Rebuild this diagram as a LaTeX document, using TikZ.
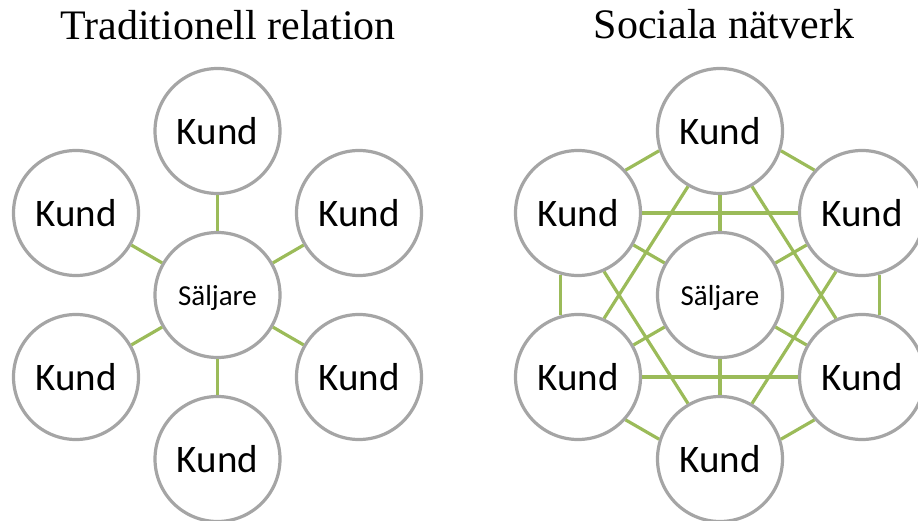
\documentclass[tikz,border=0pt]{standalone}
\usepackage{fontspec}
\setmainfont{Liberation Serif}
\newfontfamily\kundfont{Carlito}
\usepackage{tikz}
\usetikzlibrary{positioning}
\definecolor{ringGray}{RGB}{165,165,165}
\definecolor{linkGreen}{RGB}{155,187,89}

\begin{document}
\begin{tikzpicture}[x=1pt, y=-1pt,
    person/.style={circle, draw=ringGray, line width=3.2pt, fill=white, minimum size=125pt, inner sep=0pt, font=\kundfont\fontsize{39}{41}\selectfont},
    seller/.style={person, text depth=0pt, font=\kundfont\fontsize{29}{31}\selectfont},
    link/.style={linkGreen, line width=3.2pt},
    heading/.style={anchor=base, font=\fontsize{42}{45}\selectfont}]
    \useasboundingbox (0,0) rectangle (918,521);

    % Titles
    \node[heading] (titleL) at (228,40) {Traditionell relation};
    \node[heading] (titleR) at (724,39) {Sociala nätverk};

    % Traditionell relation
    \node[seller] (lc) at (217.5,295) {Säljare};
    \node[person] (lt) at (217.5,131) {Kund};
    \node[person] (lul) at (76,213) {Kund};
    \node[person] (lur) at (359,213) {Kund};
    \node[person] (lll) at (76,377) {Kund};
    \node[person] (llr) at (359,377) {Kund};
    \node[person] (lb) at (217.5,459) {Kund};
    \foreach \n in {lt,lul,lur,lll,llr,lb}
        \draw[link] (lc) -- (\n);

    % Sociala nätverk
    \node[seller] (rc) at (720,295) {Säljare};
    \node[person] (rt) at (720,131) {Kund};
    \node[person] (rul) at (578,213) {Kund};
    \node[person] (rur) at (862,213) {Kund};
    \node[person] (rll) at (578,377) {Kund};
    \node[person] (rlr) at (862,377) {Kund};
    \node[person] (rb) at (720,459) {Kund};
    \foreach \n in {rt,rul,rur,rll,rlr,rb}
        \draw[link] (rc) -- (\n);

    % outer ring
    \draw[link] (rt.198) -- (rul.42);
    \draw[link] (rt.342) -- (rur.138);
    \draw[link] (rur.286) -- (rlr.74);
    \draw[link] (rlr.222) -- (rb.18);
    \draw[link] (rb.162) -- (rll.318);
    \draw[link] (rll.106) -- (rul.254);

    % cross links
    \draw[link] (rul.0) -- (rur.180);
    \draw[link] (rll.0) -- (rlr.180);
    \draw[link] (rt.240) -- (rll.66);
    \draw[link] (rt.300) -- (rlr.114);
    \draw[link] (rb.120) -- (rul.294);
    \draw[link] (rb.60) -- (rur.246);
\end{tikzpicture}
\end{document}
